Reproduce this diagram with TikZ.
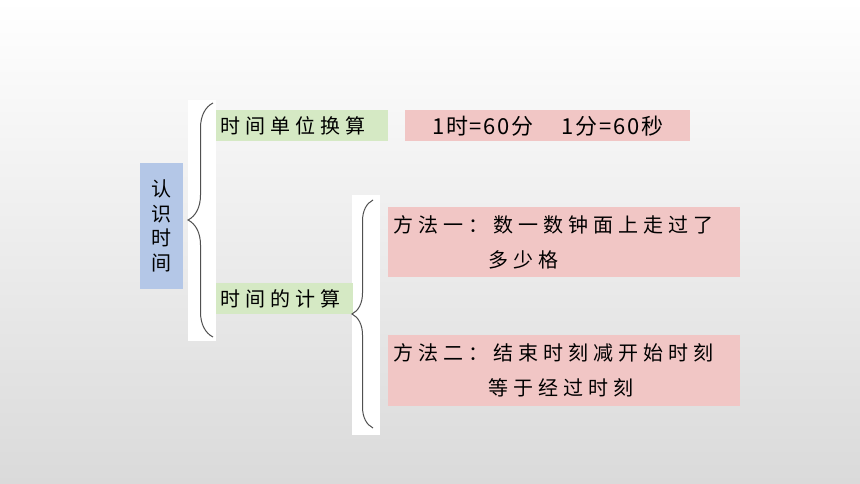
\documentclass[tikz,border=0pt]{standalone}
\usepackage{fontspec}
\newfontfamily\cjk[LetterSpace=25]{Noto Sans CJK SC}
\newfontfamily\cjknum[LetterSpace=8]{Noto Sans CJK SC}
\usetikzlibrary{decorations.pathreplacing}

\definecolor{boxgreen}{RGB}{213,233,196}
\definecolor{boxpink}{RGB}{241,198,197}
\definecolor{boxblue}{RGB}{180,199,231}
\definecolor{bracegray}{RGB}{80,80,80}
\definecolor{bggray}{RGB}{218,218,218}

\tikzset{
  topic/.style={fill=boxblue, minimum width=43pt, minimum height=126pt, inner sep=0pt, align=center,
    font=\cjk\fontsize{20}{24.5}\selectfont},
  branch/.style={fill=boxgreen, anchor=north west, minimum height=31pt, inner xsep=4pt, inner ysep=0pt,
    align=left, font=\cjk\fontsize{20}{24}\selectfont},
  leaf/.style={fill=boxpink, anchor=north west, inner xsep=5pt, inner ysep=0pt, align=left,
    font=\cjk\fontsize{20}{35}\selectfont},
  cover/.style={fill=white},
  bigbrace/.style={draw=bracegray, line width=1pt, decorate, decoration={brace, amplitude=#1, aspect=0.5}}
}

\begin{document}
\begin{tikzpicture}[x=1pt, y=-1pt]
\shade[top color=white, bottom color=bggray] (0,0) rectangle (860,484);
\useasboundingbox (0,0) rectangle (860,484);

% white strips behind the braces
\fill[cover] (188,100) rectangle (216,341);
\fill[cover] (352,195) rectangle (380,435);

\node[topic] (topic) at (161.5,226) {认\\识\\时\\间};

\node[branch, text width=164pt, minimum width=172pt] (unit) at (216,110) {时间单位换算};
\node[branch, text width=129pt, minimum width=137pt] (calc) at (216,283) {时间的计算};

\node[fill=boxpink, anchor=north west, minimum width=285pt, minimum height=31pt, inner sep=0pt,
  font=\cjknum\fontsize{22}{24}\selectfont] (rule) at (405,110) {1时=60分\hspace{28pt}1分=60秒};

\node[leaf, text width=342pt, minimum width=352pt, minimum height=70pt] (way1) at (388,207)
  {方法一：数一数钟面上走过了\\\phantom{方法一：}多少格};
\node[leaf, text width=342pt, minimum width=352pt, minimum height=71pt] (way2) at (388,335)
  {方法二：结束时刻减开始时刻\\\phantom{方法二：}等于经过时刻};

% braces
\coordinate (b1top) at (213,103);
\coordinate (b1bot) at (213,337);
\coordinate (b2top) at (373,200);
\coordinate (b2bot) at (373,428);
\draw[bigbrace=25pt] (b1bot) -- (b1top);
\draw[bigbrace=21pt] (b2bot) -- (b2top);

\end{tikzpicture}
\end{document}
